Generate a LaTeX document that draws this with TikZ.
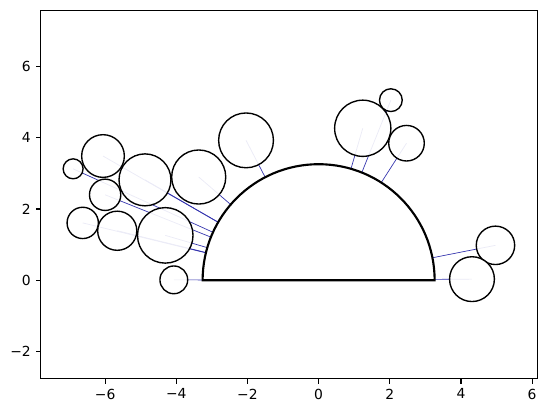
\documentclass[tikz,border=0pt]{standalone}
\usepackage{fontspec}
\setmainfont{DejaVu Sans}
\usetikzlibrary{calc}
\definecolor{springblue}{rgb}{0.2,0.2,0.68}
\begin{document}
\begin{tikzpicture}[x=1cm,y=1cm,
  spring/.style={draw=springblue, line width=0.55pt},
  ball/.style={circle, draw=black, fill=white, fill opacity=0.9, draw opacity=1, line width=1.1pt, inner sep=0pt, outer sep=0pt},
  hull/.style={draw=black, line width=1.7pt, fill=white},
  spine/.style={draw=black, line width=0.89pt},
  tick/.style={draw=black, line width=0.89pt},
  ticklabel/.style={inner sep=0pt, font=\fontsize{11.1}{13}\selectfont}]
\useasboundingbox (-8.955,-3.73) rectangle (6.39,7.875);
% circle centres
\foreach \n/\cx/\cy in {1/-6.90/3.13, 2/-6.06/3.49, 3/-4.88/2.82, 4/-3.37/2.90, 5/-2.04/3.93,
  6/-6.00/2.40, 7/-6.63/1.61, 8/-5.66/1.39, 9/-4.31/1.26, 10/-4.07/0.01,
  11/1.24/4.27, 12/2.03/5.06, 13/2.47/3.85, 14/4.97/0.98, 15/4.31/0.03}{
  \coordinate (p\n) at (\cx,\cy);
  \coordinate (a\n) at ($(0,0)!3.26cm!(p\n)$);
}
% springs
\foreach \n in {1,...,15}{
  \draw[spring] (p\n) -- (a\n);
}
% circles
\foreach \n/\r in {1/0.28, 2/0.60, 3/0.73, 4/0.76, 5/0.77, 6/0.44, 7/0.44, 8/0.55,
  9/0.78, 10/0.39, 11/0.79, 12/0.32, 13/0.50, 14/0.54, 15/0.63}{
  \node[ball, minimum size=2*\r cm] (c\n) at (p\n) {};
}
% semicircle
\coordinate (hr) at (3.26,0);
\coordinate (hl) at (-3.26,0);
\draw[hull] (hr) arc[start angle=0, end angle=180, radius=3.26] -- cycle;
% axes
\coordinate (bl) at (-7.81,-2.77);
\coordinate (tr) at (6.15,7.58);
\draw[spine] (bl) rectangle (tr);
\foreach \v/\t in {-6/−6, -4/−4, -2/−2, 0/0, 2/2, 4/4, 6/6}{
  \coordinate (xt\v) at (\v,-2.77);
  \draw[tick] (xt\v) -- ++(0,-3.9pt);
  \node[ticklabel, anchor=north] (xl\v) at ([yshift=-7.8pt]xt\v) {\t};
}
\foreach \v/\t in {-2/−2, 0/0, 2/2, 4/4, 6/6}{
  \coordinate (yt\v) at (-7.81,\v);
  \draw[tick] (yt\v) -- ++(-3.9pt,0);
  \node[ticklabel, anchor=east] (yl\v) at ([xshift=-7.8pt]yt\v) {\t};
}
\end{tikzpicture}
\end{document}
